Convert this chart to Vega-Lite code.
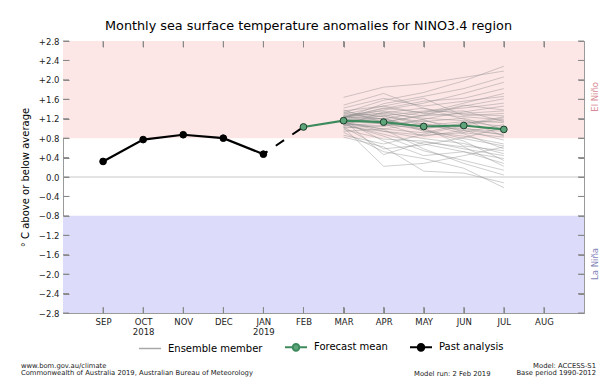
{
  "$schema": "https://vega.github.io/schema/vega-lite/v6.json",
  "width": 521,
  "height": 272,
  "autosize": "none",
  "padding": {"left": 63, "top": 41, "right": 32, "bottom": 77},
  "config": {
    "font": "DejaVu Sans",
    "view": {"stroke": "#9a9a9a", "strokeWidth": 1},
    "axis": {"domain": false, "grid": false, "labelFontSize": 8.5, "labelColor": "#222222", "labelOverlap": false, "titleFontWeight": "normal", "titleFontSize": 10, "titleColor": "#000000"},
    "legend": {"labelFontSize": 10, "labelColor": "#000000", "labelFont": "DejaVu Sans"}
  },
  "title": {"text": "Monthly sea surface temperature anomalies for NINO3.4 region", "fontSize": 12.8, "fontWeight": "normal", "color": "#000000", "offset": 4, "dx": -15},
  "datasets": {
    "main": [
      {"series": "Past analysis", "month": 0, "value": 0.32},
      {"series": "Past analysis", "month": 1, "value": 0.77},
      {"series": "Past analysis", "month": 2, "value": 0.87},
      {"series": "Past analysis", "month": 3, "value": 0.80},
      {"series": "Past analysis", "month": 4, "value": 0.47},
      {"series": "Forecast mean", "month": 5, "value": 1.03},
      {"series": "Forecast mean", "month": 6, "value": 1.16},
      {"series": "Forecast mean", "month": 7, "value": 1.13},
      {"series": "Forecast mean", "month": 8, "value": 1.04},
      {"series": "Forecast mean", "month": 9, "value": 1.06},
      {"series": "Forecast mean", "month": 10, "value": 0.98}
    ],
    "bands": [
      {"region": "El Niño", "lo": 0.8, "hi": 2.8},
      {"region": "La Niña", "lo": -2.8, "hi": -0.8}
    ],
    "yticks": [{"v": -2.8}, {"v": -2.4}, {"v": -2.0}, {"v": -1.6}, {"v": -1.2}, {"v": -0.8}, {"v": -0.4}, {"v": 0}, {"v": 0.4}, {"v": 0.8}, {"v": 1.2}, {"v": 1.6}, {"v": 2.0}, {"v": 2.4}, {"v": 2.8}],
    "xticks": [{"m": 0}, {"m": 1}, {"m": 2}, {"m": 3}, {"m": 4}, {"m": 5}, {"m": 6}, {"m": 7}, {"m": 8}, {"m": 9}, {"m": 10}, {"m": 11}],
    "notes": [
      {"id": "elnino", "label": "El Niño"},
      {"id": "lanina", "label": "La Niña"},
      {"id": "footleft", "label": "www.bom.gov.au/climate\nCommonwealth of Australia 2019, Australian Bureau of Meteorology"},
      {"id": "footright", "label": "Model: ACCESS-S1\nBase period 1990-2012"},
      {"id": "footmid", "label": "Model run: 2 Feb 2019"}
    ],
    "ens": [
      {"member":1,"month":6,"value":1.22},{"member":1,"month":7,"value":1.38},{"member":1,"month":8,"value":1.52},{"member":1,"month":9,"value":1.72},{"member":1,"month":10,"value":1.95},
      {"member":2,"month":6,"value":1.08},{"member":2,"month":7,"value":0.88},{"member":2,"month":8,"value":0.68},{"member":2,"month":9,"value":0.52},{"member":2,"month":10,"value":0.38},
      {"member":3,"month":6,"value":1.26},{"member":3,"month":7,"value":1.31},{"member":3,"month":8,"value":1.21},{"member":3,"month":9,"value":1.16},{"member":3,"month":10,"value":1.12},
      {"member":4,"month":6,"value":1.04},{"member":4,"month":7,"value":0.94},{"member":4,"month":8,"value":0.86},{"member":4,"month":9,"value":0.91},{"member":4,"month":10,"value":0.82},
      {"member":5,"month":6,"value":1.32},{"member":5,"month":7,"value":1.58},{"member":5,"month":8,"value":1.74},{"member":5,"month":9,"value":1.98},{"member":5,"month":10,"value":2.28},
      {"member":6,"month":6,"value":1.14},{"member":6,"month":7,"value":0.98},{"member":6,"month":8,"value":0.58},{"member":6,"month":9,"value":0.28},{"member":6,"month":10,"value":0.04},
      {"member":7,"month":6,"value":1.19},{"member":7,"month":7,"value":1.26},{"member":7,"month":8,"value":1.36},{"member":7,"month":9,"value":1.42},{"member":7,"month":10,"value":1.52},
      {"member":8,"month":6,"value":0.98},{"member":8,"month":7,"value":0.78},{"member":8,"month":8,"value":0.74},{"member":8,"month":9,"value":0.58},{"member":8,"month":10,"value":0.44},
      {"member":9,"month":6,"value":1.36},{"member":9,"month":7,"value":1.46},{"member":9,"month":8,"value":1.31},{"member":9,"month":9,"value":1.24},{"member":9,"month":10,"value":1.18},
      {"member":10,"month":6,"value":1.11},{"member":10,"month":7,"value":1.16},{"member":10,"month":8,"value":1.04},{"member":10,"month":9,"value":0.99},{"member":10,"month":10,"value":0.94},
      {"member":11,"month":6,"value":1.24},{"member":11,"month":7,"value":1.41},{"member":11,"month":8,"value":1.56},{"member":11,"month":9,"value":1.62},{"member":11,"month":10,"value":1.82},
      {"member":12,"month":6,"value":0.92},{"member":12,"month":7,"value":0.52},{"member":12,"month":8,"value":0.38},{"member":12,"month":9,"value":0.18},{"member":12,"month":10,"value":-0.22},
      {"member":13,"month":6,"value":1.18},{"member":13,"month":7,"value":1.09},{"member":13,"month":8,"value":0.99},{"member":13,"month":9,"value":1.11},{"member":13,"month":10,"value":1.16},
      {"member":14,"month":6,"value":1.16},{"member":14,"month":7,"value":1.21},{"member":14,"month":8,"value":0.94},{"member":14,"month":9,"value":0.84},{"member":14,"month":10,"value":0.68},
      {"member":15,"month":6,"value":1.42},{"member":15,"month":7,"value":1.62},{"member":15,"month":8,"value":1.46},{"member":15,"month":9,"value":1.56},{"member":15,"month":10,"value":1.66},
      {"member":16,"month":6,"value":1.02},{"member":16,"month":7,"value":0.22},{"member":16,"month":8,"value":0.28},{"member":16,"month":9,"value":0.44},{"member":16,"month":10,"value":0.62},
      {"member":17,"month":6,"value":1.21},{"member":17,"month":7,"value":1.29},{"member":17,"month":8,"value":1.09},{"member":17,"month":9,"value":0.96},{"member":17,"month":10,"value":0.88},
      {"member":18,"month":6,"value":1.09},{"member":18,"month":7,"value":1.04},{"member":18,"month":8,"value":1.19},{"member":18,"month":9,"value":1.34},{"member":18,"month":10,"value":1.46},
      {"member":19,"month":6,"value":1.31},{"member":19,"month":7,"value":1.19},{"member":19,"month":8,"value":0.98},{"member":19,"month":9,"value":0.79},{"member":19,"month":10,"value":0.64},
      {"member":20,"month":6,"value":0.86},{"member":20,"month":7,"value":0.68},{"member":20,"month":8,"value":0.88},{"member":20,"month":9,"value":1.06},{"member":20,"month":10,"value":1.22},
      {"member":21,"month":6,"value":1.27},{"member":21,"month":7,"value":1.36},{"member":21,"month":8,"value":1.26},{"member":21,"month":9,"value":1.31},{"member":21,"month":10,"value":1.36},
      {"member":22,"month":6,"value":1.13},{"member":22,"month":7,"value":0.94},{"member":22,"month":8,"value":0.79},{"member":22,"month":9,"value":0.69},{"member":22,"month":10,"value":0.48},
      {"member":23,"month":6,"value":1.21},{"member":23,"month":7,"value":1.51},{"member":23,"month":8,"value":1.66},{"member":23,"month":9,"value":1.82},{"member":23,"month":10,"value":2.06},
      {"member":24,"month":6,"value":1.06},{"member":24,"month":7,"value":1.11},{"member":24,"month":8,"value":0.96},{"member":24,"month":9,"value":0.74},{"member":24,"month":10,"value":0.34},
      {"member":25,"month":6,"value":1.34},{"member":25,"month":7,"value":1.24},{"member":25,"month":8,"value":1.14},{"member":25,"month":9,"value":1.21},{"member":25,"month":10,"value":0.98},
      {"member":26,"month":6,"value":1.09},{"member":26,"month":7,"value":0.84},{"member":26,"month":8,"value":0.54},{"member":26,"month":9,"value":0.34},{"member":26,"month":10,"value":0.14},
      {"member":27,"month":6,"value":1.19},{"member":27,"month":7,"value":1.14},{"member":27,"month":8,"value":1.26},{"member":27,"month":9,"value":1.46},{"member":27,"month":10,"value":1.61},
      {"member":28,"month":6,"value":1.01},{"member":28,"month":7,"value":1.06},{"member":28,"month":8,"value":1.16},{"member":28,"month":9,"value":1.01},{"member":28,"month":10,"value":0.86},
      {"member":29,"month":6,"value":1.48},{"member":29,"month":7,"value":1.72},{"member":29,"month":8,"value":1.41},{"member":29,"month":9,"value":1.29},{"member":29,"month":10,"value":1.26},
      {"member":30,"month":6,"value":1.14},{"member":30,"month":7,"value":1.26},{"member":30,"month":8,"value":1.06},{"member":30,"month":9,"value":1.14},{"member":30,"month":10,"value":1.04},
      {"member":31,"month":6,"value":1.26},{"member":31,"month":7,"value":1.09},{"member":31,"month":8,"value":0.84},{"member":31,"month":9,"value":0.96},{"member":31,"month":10,"value":0.76},
      {"member":32,"month":6,"value":1.03},{"member":32,"month":7,"value":0.58},{"member":32,"month":8,"value":0.66},{"member":32,"month":9,"value":0.81},{"member":32,"month":10,"value":1.02},
      {"member":33,"month":6,"value":1.22},{"member":33,"month":7,"value":1.42},{"member":33,"month":8,"value":1.32},{"member":33,"month":9,"value":1.52},{"member":33,"month":10,"value":1.72},
      {"member":34,"month":6,"value":1.11},{"member":34,"month":7,"value":0.99},{"member":34,"month":8,"value":1.11},{"member":34,"month":9,"value":0.89},{"member":34,"month":10,"value":0.58},
      {"member":35,"month":6,"value":1.29},{"member":35,"month":7,"value":1.46},{"member":35,"month":8,"value":1.62},{"member":35,"month":9,"value":1.26},{"member":35,"month":10,"value":1.31},
      {"member":36,"month":6,"value":1.16},{"member":36,"month":7,"value":0.74},{"member":36,"month":8,"value":0.44},{"member":36,"month":9,"value":0.52},{"member":36,"month":10,"value":0.28},
      {"member":37,"month":6,"value":1.23},{"member":37,"month":7,"value":1.32},{"member":37,"month":8,"value":1.42},{"member":37,"month":9,"value":1.19},{"member":37,"month":10,"value":0.84},
      {"member":38,"month":6,"value":0.94},{"member":38,"month":7,"value":0.99},{"member":38,"month":8,"value":0.91},{"member":38,"month":9,"value":1.09},{"member":38,"month":10,"value":1.24},
      {"member":39,"month":6,"value":1.24},{"member":39,"month":7,"value":1.19},{"member":39,"month":8,"value":1.34},{"member":39,"month":9,"value":1.36},{"member":39,"month":10,"value":1.14},
      {"member":40,"month":6,"value":1.12},{"member":40,"month":7,"value":1.21},{"member":40,"month":8,"value":1.01},{"member":40,"month":9,"value":0.64},{"member":40,"month":10,"value":0.54},
      {"member":41,"month":6,"value":1.64},{"member":41,"month":7,"value":1.85},{"member":41,"month":8,"value":1.92},{"member":41,"month":9,"value":2.05},{"member":41,"month":10,"value":2.18},
      {"member":42,"month":6,"value":0.82},{"member":42,"month":7,"value":0.62},{"member":42,"month":8,"value":0.12},{"member":42,"month":9,"value":0.08},{"member":42,"month":10,"value":-0.12},
      {"member":43,"month":6,"value":1.38},{"member":43,"month":7,"value":1.12},{"member":43,"month":8,"value":1.28},{"member":43,"month":9,"value":1.48},{"member":43,"month":10,"value":1.38},
      {"member":44,"month":6,"value":1.06},{"member":44,"month":7,"value":1.34},{"member":44,"month":8,"value":1.18},{"member":44,"month":9,"value":0.92},{"member":44,"month":10,"value":1.08},
      {"member":45,"month":6,"value":1.17},{"member":45,"month":7,"value":0.46},{"member":45,"month":8,"value":0.72},{"member":45,"month":9,"value":0.62},{"member":45,"month":10,"value":0.22}
    ]
  },
  "layer": [
    {
      "data": {"name": "bands"},
      "transform": [{"filter": "datum.region == 'El Niño'"}],
      "mark": {"type": "rect", "color": "#fde6e6"},
      "encoding": {
        "y": {"field": "lo", "type": "quantitative", "scale": {"domain": [-2.8, 2.8], "nice": false, "zero": false},
          "axis": {"orient": "left", "zindex": 1, "ticks": true, "tickSize": 6, "offset": -6, "tickColor": "#888888", "tickWidth": 1, "labelPadding": 4,
            "title": "° C above or below average", "titlePadding": 8, "values": [-2.8, -2.4, -2.0, -1.6, -1.2, -0.8, -0.4, 0, 0.4, 0.8, 1.2, 1.6, 2.0, 2.4, 2.8],
            "labelExpr": "datum.value > 0.001 ? '+' + format(datum.value, '.1f') : format(datum.value, '.1f')"}},
        "y2": {"field": "hi"}
      }
    },
    {
      "data": {"name": "bands"},
      "transform": [{"filter": "datum.region == 'La Niña'"}],
      "mark": {"type": "rect", "color": "#dcdcfa"},
      "encoding": {
        "y": {"field": "lo", "type": "quantitative", "axis": null},
        "y2": {"field": "hi"}
      }
    },
    {
      "data": {"name": "bands"},
      "transform": [{"filter": "datum.region == 'El Niño'"}],
      "mark": {"type": "rule", "color": "#c8c8c8", "strokeWidth": 1},
      "encoding": {
        "y": {"datum": 0, "type": "quantitative",
          "axis": {"orient": "right", "zindex": 1, "ticks": true, "tickSize": 6, "offset": -6, "tickColor": "#888888", "tickWidth": 1, "labels": false, "title": null, "values": [-2.8, -2.4, -2.0, -1.6, -1.2, -0.8, -0.4, 0, 0.4, 0.8, 1.2, 1.6, 2.0, 2.4, 2.8]}}
      }
    },
    {
      "mark": {"type": "rule", "color": "#e4a2ab", "strokeWidth": 1.2, "strokeDash": [8, 5]},
      "encoding": {"y": {"datum": 0.8, "type": "quantitative", "axis": null}}
    },
    {
      "mark": {"type": "rule", "color": "#8e8ea6", "strokeWidth": 1.2, "strokeDash": [8, 5]},
      "encoding": {"y": {"datum": -0.8, "type": "quantitative", "axis": null}}
    },
    {
      "data": {"name": "ens"},
      "mark": {"type": "line", "color": "#8c8c8c", "strokeWidth": 1, "opacity": 0.42},
      "encoding": {
        "x": {"field": "month", "type": "quantitative", "scale": {"domain": [-1, 12], "nice": false, "zero": false},
          "axis": {"orient": "top", "zindex": 1, "ticks": true, "tickSize": 6, "offset": -6, "tickColor": "#888888", "tickWidth": 1, "labels": false, "title": null, "values": [0, 1, 2, 3, 4, 5, 6, 7, 8, 9, 10, 11]}},
        "y": {"field": "value", "type": "quantitative", "axis": null},
        "detail": {"field": "member", "type": "nominal"}
      }
    },
    {
      "data": {"name": "yticks"},
      "mark": {"type": "rule", "color": "#8a8a8a", "strokeWidth": 1},
      "encoding": {
        "y": {"field": "v", "type": "quantitative", "axis": null},
        "x": {"datum": -1, "type": "quantitative", "axis": null},
        "x2": {"datum": -0.85}
      }
    },
    {
      "data": {"name": "yticks"},
      "mark": {"type": "rule", "color": "#8a8a8a", "strokeWidth": 1},
      "encoding": {
        "y": {"field": "v", "type": "quantitative", "axis": null},
        "x": {"datum": 12, "type": "quantitative", "axis": null},
        "x2": {"datum": 11.85}
      }
    },
    {
      "data": {"name": "xticks"},
      "mark": {"type": "rule", "color": "#8a8a8a", "strokeWidth": 1},
      "encoding": {
        "x": {"field": "m", "type": "quantitative", "axis": null},
        "y": {"datum": -2.8, "type": "quantitative", "axis": null},
        "y2": {"datum": -2.676}
      }
    },
    {
      "data": {"name": "xticks"},
      "mark": {"type": "rule", "color": "#8a8a8a", "strokeWidth": 1},
      "encoding": {
        "x": {"field": "m", "type": "quantitative", "axis": null},
        "y": {"datum": 2.8, "type": "quantitative", "axis": null},
        "y2": {"datum": 2.676}
      }
    },
    {
      "data": {"name": "main"},
      "transform": [{"filter": "datum.month >= 4 && datum.month <= 5"}],
      "mark": {"type": "line", "color": "#000000", "strokeWidth": 2, "strokeDash": [10, 10], "strokeDashOffset": 5},
      "encoding": {
        "x": {"field": "month", "type": "quantitative", "axis": null},
        "y": {"field": "value", "type": "quantitative", "axis": null}
      }
    },
    {
      "data": {"name": "main"},
      "mark": {"type": "line", "strokeWidth": 2.2},
      "encoding": {
        "x": {"field": "month", "type": "quantitative",
          "axis": {"orient": "bottom", "zindex": 1, "ticks": true, "tickSize": 6, "offset": -6, "tickColor": "#888888", "tickWidth": 1, "labelPadding": 4,
            "title": null, "values": [0, 1, 2, 3, 4, 5, 6, 7, 8, 9, 10, 11], "labelLineHeight": 10,
            "labelExpr": "datum.value == 1 ? ['OCT', '2018'] : datum.value == 4 ? ['JAN', '2019'] : ['SEP','OCT','NOV','DEC','JAN','FEB','MAR','APR','MAY','JUN','JUL','AUG'][datum.value]"}},
        "y": {"field": "value", "type": "quantitative", "axis": null},
        "color": {"field": "series", "type": "nominal",
          "scale": {"domain": ["Ensemble member", "Forecast mean", "Past analysis"], "range": ["#a8a8a8", "#3d8b5d", "#000000"]},
          "legend": {"orient": "none", "legendX": 82, "legendY": 301, "direction": "horizontal", "title": null, "symbolSize": 484, "labelOffset": 13, "columnPadding": 18,
            "encode": {"symbols": {"update": {
              "shape": {"signal": "datum.value === 'Ensemble member' ? 'stroke' : 'M-1,0H-0.3M0.3,0H1M-0.3,0A0.3,0.3,0,1,1,0.3,0A0.3,0.3,0,1,1,-0.3,0Z'"},
              "fill": {"signal": "datum.value === 'Forecast mean' ? '#5fa57c' : datum.value === 'Past analysis' ? '#000000' : 'transparent'"},
              "strokeWidth": {"signal": "datum.value === 'Ensemble member' ? 1.5 : 2"},
              "opacity": {"value": 1}
            }}}}
        }
      }
    },
    {
      "data": {"name": "main"},
      "mark": {"type": "point", "shape": "circle", "filled": true, "size": 45, "strokeWidth": 1, "opacity": 1},
      "encoding": {
        "x": {"field": "month", "type": "quantitative", "axis": null},
        "y": {"field": "value", "type": "quantitative", "axis": null},
        "fill": {"field": "series", "type": "nominal", "scale": {"domain": ["Forecast mean", "Past analysis"], "range": ["#5fa57c", "#000000"]}, "legend": null},
        "stroke": {"field": "series", "type": "nominal", "scale": {"domain": ["Forecast mean", "Past analysis"], "range": ["#1d3d2b", "#000000"]}, "legend": null}
      }
    },
    {
      "data": {"name": "notes"},
      "transform": [{"filter": "datum.id == 'elnino'"}],
      "mark": {"type": "text", "angle": 270, "fontSize": 8.5, "color": "#d98a94", "align": "center", "baseline": "middle"},
      "encoding": {
        "x": {"datum": 12.27, "type": "quantitative", "axis": null},
        "y": {"datum": 1.65, "type": "quantitative", "axis": null},
        "text": {"field": "label"}
      }
    },
    {
      "data": {"name": "notes"},
      "transform": [{"filter": "datum.id == 'lanina'"}],
      "mark": {"type": "text", "angle": 270, "fontSize": 8.5, "color": "#7f7fb8", "align": "center", "baseline": "middle"},
      "encoding": {
        "x": {"datum": 12.27, "type": "quantitative", "axis": null},
        "y": {"datum": -1.79, "type": "quantitative", "axis": null},
        "text": {"field": "label"}
      }
    },
    {
      "data": {"name": "notes"},
      "transform": [{"filter": "datum.id == 'footleft'"}],
      "mark": {"type": "text", "fontSize": 6.8, "color": "#222222", "align": "left", "baseline": "middle", "lineHeight": 7.5, "lineBreak": "\n"},
      "encoding": {
        "x": {"datum": -2.05, "type": "quantitative", "axis": null},
        "y": {"datum": -3.89, "type": "quantitative", "axis": null},
        "text": {"field": "label"}
      }
    },
    {
      "data": {"name": "notes"},
      "transform": [{"filter": "datum.id == 'footright'"}],
      "mark": {"type": "text", "fontSize": 6.8, "color": "#222222", "align": "right", "baseline": "middle", "lineHeight": 7.5, "lineBreak": "\n"},
      "encoding": {
        "x": {"datum": 12.3, "type": "quantitative", "axis": null},
        "y": {"datum": -3.89, "type": "quantitative", "axis": null},
        "text": {"field": "label"}
      }
    },
    {
      "data": {"name": "notes"},
      "transform": [{"filter": "datum.id == 'footmid'"}],
      "mark": {"type": "text", "fontSize": 6.8, "color": "#222222", "align": "left", "baseline": "middle"},
      "encoding": {
        "x": {"datum": 7.76, "type": "quantitative", "axis": null},
        "y": {"datum": -4.05, "type": "quantitative", "axis": null},
        "text": {"field": "label"}
      }
    }
  ]
}
